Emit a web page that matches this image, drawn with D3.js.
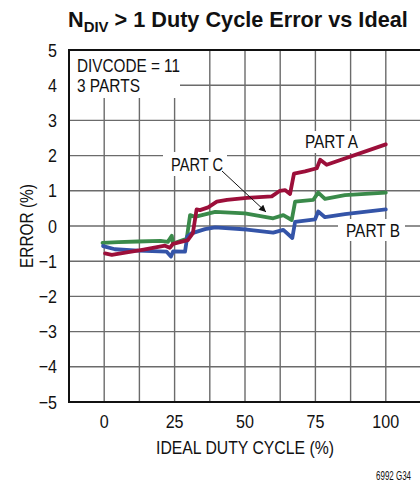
<!DOCTYPE html>
<html>
<head>
<meta charset="utf-8">
<script src="https://cdn.jsdelivr.net/npm/d3@7"></script>
<style>
  html, body { margin: 0; padding: 0; background: #fff; }
  svg { display: block; }
  text { font-family: "Liberation Sans", Arimo, Arial, sans-serif; fill: #111; }
</style>
</head>
<body>
<svg id="chart" width="420" height="482"></svg>
<script>
// Duty cycle error (%) versus ideal duty cycle (%) for three parts, DIVCODE = 11
const partAx = [0.3, 2.7, 8, 14, 21.6, 23.3, 24.4, 29.7, 31.5, 32.8, 34, 36.9, 40, 43.6, 50.7, 59.5, 62.4, 64.2, 66, 67.4, 71.3, 75.5, 76.7, 79, 100];
const partAy = [-0.78, -0.82, -0.75, -0.67, -0.56, -0.62, -0.51, -0.40, -0.20, 0.47, 0.45, 0.53, 0.69, 0.74, 0.80, 0.84, 1.00, 1.02, 0.91, 1.49, 1.55, 1.64, 1.88, 1.74, 2.32];

const partBx = [-0.4, 3.8, 12, 22.2, 23.7, 24.5, 28.7, 29.5, 31, 35.8, 39.4, 50.7, 60, 63.6, 66.8, 67.8, 74.9, 76, 78.4, 85.5, 100];
const partBy = [-0.57, -0.66, -0.70, -0.73, -0.87, -0.72, -0.73, -0.30, -0.21, -0.09, -0.04, -0.10, -0.19, -0.11, -0.34, 0.12, 0.19, 0.41, 0.25, 0.34, 0.47];

const partCx = [-0.6, 5, 12, 20, 22.6, 24, 24.4, 29.3, 30.5, 32.2, 39.4, 50, 60, 63.6, 66.6, 67.8, 74.2, 76, 78.4, 85.5, 100];
const partCy = [-0.48, -0.46, -0.44, -0.42, -0.45, -0.28, -0.50, -0.36, 0.31, 0.26, 0.40, 0.36, 0.22, 0.31, 0.17, 0.69, 0.74, 0.95, 0.77, 0.88, 0.95];

const xTicks = [0, 25, 50, 75, 100];
const yTicks = [-5, -4, -3, -2, -1, 0, 1, 2, 3, 4, 5];
const xGrid = [0, 12.5, 25, 37.5, 50, 62.5, 75, 87.5, 100];
const yGrid = [-4, -3, -2, -1, 0, 1, 2, 3, 4];

const svg = d3.select("#chart");
const x = d3.scaleLinear().domain([-12.5, 112.5]).range([69, 421]);
const y = d3.scaleLinear().domain([-5, 5]).range([402, 50]);

// squeeze a text horizontally around its anchor point to a condensed width
function condense(sel, ax, opts) {
  sel.each(function () {
    const w = this.getComputedTextLength();
    const sx = opts.width ? opts.width / w : opts.factor;
    const px = typeof ax === "function" ? ax(d3.select(this).datum()) : ax;
    d3.select(this).attr("transform", `translate(${px},0) scale(${sx},1) translate(${-px},0)`);
  });
  return sel;
}

// grid
const grid = svg.append("g").attr("stroke", "#6b6b6b").attr("stroke-width", 1.4);
grid.selectAll("line.v").data(xGrid).join("line")
  .attr("x1", d => x(d)).attr("x2", d => x(d)).attr("y1", y(5)).attr("y2", y(-5));
grid.selectAll("line.h").data(yGrid).join("line")
  .attr("x1", x(-12.5)).attr("x2", 420).attr("y1", d => y(d)).attr("y2", d => y(d));

// white boxes behind annotations
const boxes = [
  [70, 51, 110, 47],
  [163, 152, 64, 24],
  [301, 131, 61, 22],
  [338, 219, 67, 22]
];
svg.append("g").selectAll("rect").data(boxes).join("rect")
  .attr("x", d => d[0]).attr("y", d => d[1]).attr("width", d => d[2]).attr("height", d => d[3])
  .attr("fill", "#fff");

// frame (left, top, bottom)
svg.append("path")
  .attr("d", `M420,${y(5)}H${x(-12.5)}V${y(-5)}H420`)
  .attr("fill", "none").attr("stroke", "#111").attr("stroke-width", 2);

// series
const line = d3.line().x(d => x(d[0])).y(d => y(d[1]));
const series = [
  { xs: partCx, ys: partCy, color: "#3a8a4a" },
  { xs: partBx, ys: partBy, color: "#3454a8" },
  { xs: partAx, ys: partAy, color: "#9c0f3a" }
];
svg.append("g").selectAll("path").data(series).join("path")
  .attr("d", s => line(s.xs.map((v, i) => [v, s.ys[i]])))
  .attr("fill", "none").attr("stroke", s => s.color)
  .attr("stroke-width", 3.8).attr("stroke-linejoin", "round").attr("stroke-linecap", "round");

// tick labels
svg.append("g").selectAll("text").data(xTicks).join("text")
  .attr("x", d => x(d)).attr("y", 428).attr("text-anchor", "middle")
  .attr("font-size", 18.5).text(d => d)
  .call(condense, d => x(d), { factor: 0.87 });
svg.append("g").selectAll("text").data(yTicks).join("text")
  .attr("x", 57).attr("y", d => y(d) + 6.6).attr("text-anchor", "end")
  .attr("font-size", 18.5).text(d => d < 0 ? "\u2212" + Math.abs(d) : d)
  .call(condense, 57, { factor: 0.87 });

// axis titles
svg.append("text").attr("x", x(50)).attr("y", 454).attr("text-anchor", "middle")
  .attr("font-size", 18.5).text("IDEAL DUTY CYCLE (%)")
  .call(condense, x(50), { width: 178 });
const yTitle = svg.append("g").attr("transform", `translate(33,${y(0)}) rotate(-90)`)
  .append("text").attr("x", 0).attr("y", 0).attr("text-anchor", "middle")
  .attr("font-size", 18.5).text("ERROR (%)");
condense(yTitle, 0, { width: 84 });

// title
const title = svg.append("text").attr("x", 68).attr("y", 27)
  .attr("font-size", 22.5).attr("font-weight", "bold");
title.append("tspan").text("N");
title.append("tspan").attr("dy", 5).attr("font-size", 15.5).text("DIV");
title.append("tspan").attr("dy", -5).text(" > 1 Duty Cycle Error vs Ideal");
condense(title, 68, { width: 340 });

// annotations
const notes = [
  { t: "DIVCODE = 11", x: 77, y: 72, w: 103 },
  { t: "3 PARTS", x: 77, y: 92, w: 63 },
  { t: "PART C", x: 171, y: 171, w: 52 },
  { t: "PART A", x: 305, y: 148, w: 53 },
  { t: "PART B", x: 346, y: 237, w: 54 }
];
notes.forEach(n => {
  svg.append("text").attr("x", n.x).attr("y", n.y).attr("font-size", 18.5).text(n.t)
    .call(condense, n.x, { width: n.w });
});
svg.append("text").attr("x", 411).attr("y", 480).attr("text-anchor", "end").attr("font-size", 12.5).text("6992 G34")
  .call(condense, 411, { width: 35 });

// arrow from PART C label to its curve
svg.append("defs").append("marker")
  .attr("id", "arrow").attr("viewBox", "0 0 10 10").attr("refX", 10).attr("refY", 5)
  .attr("markerWidth", 11).attr("markerHeight", 7).attr("markerUnits", "userSpaceOnUse")
  .attr("orient", "auto")
  .append("path").attr("d", "M0,0L10,5L0,10Z").attr("fill", "#111");
svg.append("line")
  .attr("x1", 222).attr("y1", 171).attr("x2", 266).attr("y2", 212)
  .attr("stroke", "#111").attr("stroke-width", 1).attr("marker-end", "url(#arrow)");
</script>
</body>
</html>
